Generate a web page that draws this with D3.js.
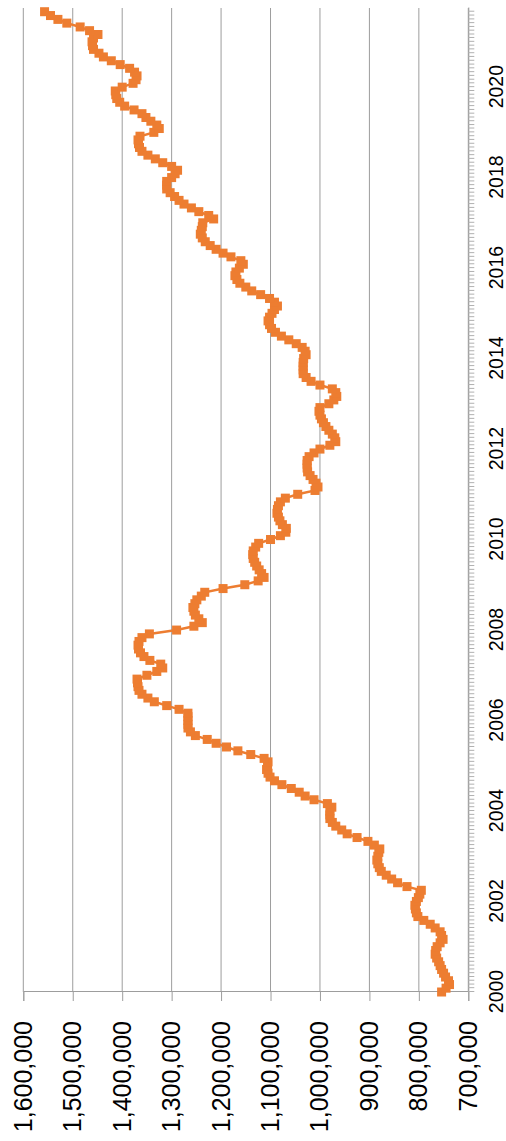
<!DOCTYPE html>
<html>
<head>
<meta charset="utf-8">
<script src="https://cdn.jsdelivr.net/npm/d3@7"></script>
<style>
  body { margin: 0; background: #fff; }
</style>
</head>
<body>
<script>
// monthly series, Jan 2000 .. Sep 2021
var startMonth = new Date(2000, 0, 1);
var axisEnd = new Date(2021, 9, 1);
var values = [
  754000, 745000, 738000, 740000, 746000, 750000, 754000, 757000, 760000, 764000, 767000, 766000,
  763000, 757000, 751000, 754000, 757000, 767000, 777000, 790000, 802000, 805000, 807000, 808000,
  805000, 801000, 798000, 795000, 824000, 843000, 855000, 866000, 876000, 880000, 883000, 885000,
  883000, 881000, 879000, 890000, 903000, 925000, 945000, 956000, 968000, 975000, 980000, 980000,
  980000, 976000, 985000, 1012000, 1030000, 1042000, 1058000, 1077000, 1092000, 1101000, 1105000, 1108000,
  1106000, 1105000, 1113000, 1140000, 1166000, 1189000, 1210000, 1228000, 1252000, 1262000, 1267000, 1267000,
  1267000, 1267000, 1267000, 1285000, 1310000, 1335000, 1348000, 1360000, 1366000, 1368000, 1369000, 1370000,
  1350000, 1330000, 1318000, 1322000, 1344000, 1356000, 1363000, 1367000, 1368000, 1366000, 1360000, 1345000,
  1290000, 1255000, 1238000, 1245000, 1252000, 1255000, 1257000, 1253000, 1249000, 1240000, 1233000, 1196000,
  1152000, 1125000, 1113000, 1118000, 1123000, 1128000, 1132000, 1135000, 1136000, 1135000, 1130000, 1124000,
  1100000, 1080000, 1069000, 1068000, 1076000, 1081000, 1084000, 1087000, 1086000, 1084000, 1080000, 1070000,
  1045000, 1010000, 1004000, 1008000, 1014000, 1020000, 1025000, 1026000, 1026000, 1026000, 1022000, 1012000,
  1000000, 980000, 968000, 970000, 975000, 982000, 988000, 993000, 997000, 1000000, 1002000, 1000000,
  982000, 972000, 966000, 968000, 975000, 1000000, 1018000, 1028000, 1034000, 1034000, 1034000, 1034000,
  1033000, 1028000, 1030000, 1036000, 1048000, 1063000, 1078000, 1090000, 1098000, 1102000, 1105000, 1102000,
  1097000, 1092000, 1086000, 1092000, 1102000, 1120000, 1138000, 1150000, 1162000, 1168000, 1172000, 1170000,
  1163000, 1155000, 1160000, 1180000, 1196000, 1210000, 1222000, 1232000, 1238000, 1242000, 1240000, 1238000,
  1237000, 1215000, 1225000, 1245000, 1260000, 1275000, 1285000, 1294000, 1303000, 1310000, 1310000, 1310000,
  1300000, 1293000, 1288000, 1300000, 1318000, 1333000, 1348000, 1360000, 1365000, 1367000, 1368000, 1364000,
  1336000, 1325000, 1330000, 1342000, 1352000, 1360000, 1376000, 1395000, 1405000, 1411000, 1413000, 1414000,
  1400000, 1378000, 1372000, 1370000, 1375000, 1385000, 1404000, 1422000, 1438000, 1447000, 1458000, 1460000,
  1461000, 1458000, 1449000, 1466000, 1485000, 1512000, 1530000, 1545000, 1557000
];
var months = d3.timeMonth.range(startMonth, axisEnd);
var valueTicks = [700000, 800000, 900000, 1000000, 1100000, 1200000, 1300000, 1400000, 1500000, 1600000];
var yearTicks = [2000, 2002, 2004, 2006, 2008, 2010, 2012, 2014, 2016, 2018, 2020];

var data = months.map(function(m, i){ return {date: m, value: values[i]}; });

// the whole chart is drawn sideways (rotated a quarter turn)
var W = 1141;
var H = 506;
var svg = d3.select('body')
    .append('svg')
    .attr('width', H)
    .attr('height', W);
var g = svg.append('g')
    .attr('transform', 'translate(0,' + W + ') rotate(-90)');

var x = d3.scaleTime()
    .domain([startMonth, axisEnd])
    .range([149, 1133]);
var y = d3.scaleLinear()
    .domain([700000, 1600000])
    .range([468.3, 23.3]);

var gridColor = '#9d9d9d';

// gridlines
g.selectAll('line.grid')
    .data(valueTicks)
    .enter()
    .append('line')
    .attr('class', 'grid')
    .attr('x1', x.range()[0])
    .attr('x2', x.range()[1])
    .attr('y1', function(d){ return y(d); })
    .attr('y2', function(d){ return y(d); })
    .attr('stroke', gridColor)
    .attr('stroke-width', 1);

// value axis
var yAxis = g.append('g')
    .attr('transform', 'translate(' + x.range()[0] + ',0)')
    .call(d3.axisLeft(y)
        .tickValues(valueTicks)
        .tickSize(9)
        .tickPadding(20)
        .tickFormat(d3.format(',')));
yAxis.select('.domain').attr('stroke', gridColor);
yAxis.selectAll('.tick line').attr('stroke', gridColor);
yAxis.selectAll('text')
    .attr('font-family', 'Liberation Sans, Arial, sans-serif')
    .attr('font-size', '25px')
    .attr('fill', '#000');

// date axis: minor ticks
var minor = g.append('g')
    .attr('transform', 'translate(0,' + y.range()[0] + ')')
    .call(d3.axisBottom(x)
        .tickValues(months)
        .tickSize(6)
        .tickSizeOuter(0)
        .tickFormat(''));
minor.select('.domain').attr('stroke', gridColor);
minor.selectAll('.tick line').attr('stroke', '#b0b0b0');

// date axis: year labels
var labels = g.append('g')
    .attr('transform', 'translate(0,' + y.range()[0] + ')')
    .call(d3.axisBottom(x)
        .tickValues(yearTicks.map(function(yr){ return new Date(yr, 0, 1); }))
        .tickSize(0)
        .tickPadding(21)
        .tickFormat(d3.timeFormat('%Y')));
labels.select('.domain').remove();
labels.selectAll('text')
    .attr('font-family', 'Liberation Sans, Arial, sans-serif')
    .attr('font-size', '19.5px')
    .attr('fill', '#000');

// line + square markers
var orange = '#ed7d31';
var line = d3.line()
    .x(function(d){ return x(d.date); })
    .y(function(d){ return y(d.value); });

g.append('path')
    .datum(data)
    .attr('d', line)
    .attr('fill', 'none')
    .attr('stroke', orange)
    .attr('stroke-width', 2.5);

var ms = 9;
g.selectAll('rect.marker')
    .data(data)
    .enter()
    .append('rect')
    .attr('class', 'marker')
    .attr('x', function(d){ return x(d.date) - ms / 2; })
    .attr('y', function(d){ return y(d.value) - ms / 2; })
    .attr('width', ms)
    .attr('height', ms)
    .attr('fill', orange);
</script>
</body>
</html>
